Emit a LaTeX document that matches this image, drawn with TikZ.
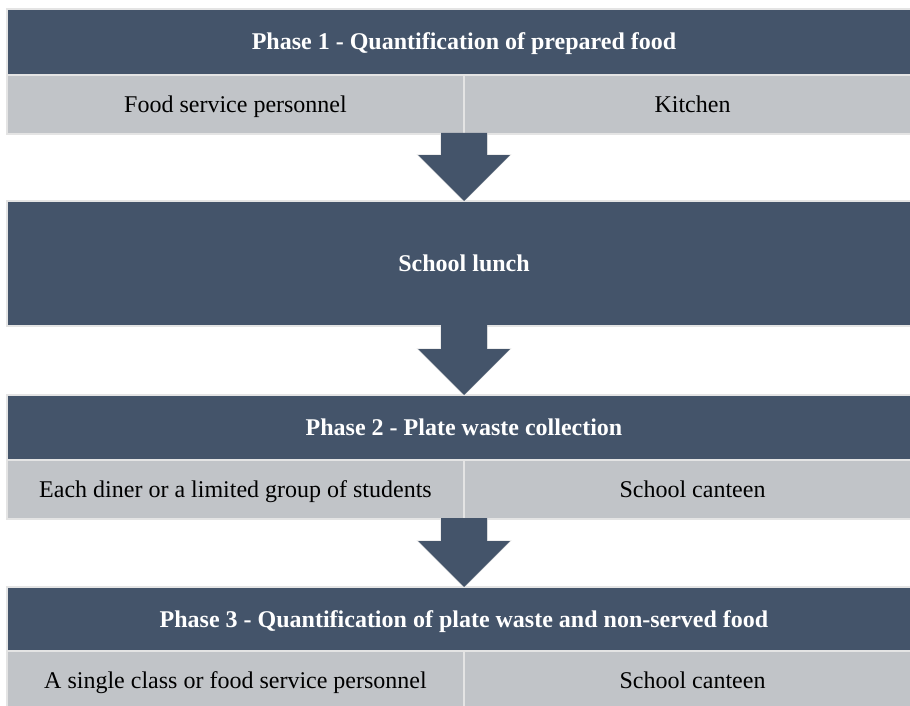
\documentclass[tikz,border=0pt]{standalone}
\usepackage{fontspec}
\setmainfont{Liberation Serif}
\usetikzlibrary{calc}
\definecolor{dk}{HTML}{44546A}
\definecolor{lg}{HTML}{C1C4C8}
\definecolor{bd}{HTML}{E4E4E4}
\newcommand\myblockarrow[2]{%
  \draw[bd, line width=1.4pt, line join=miter]
    ($(#1)+(-23,0)$) -- ($(#2)+(-23,-46)$) -- ($(#2)+(-46,-46)$) -- (#2)
    -- ($(#2)+(46,-46)$) -- ($(#2)+(23,-46)$) -- ($(#1)+(23,0)$);
  \fill[dk]
    ($(#1)+(-23,-1)$) -- ($(#2)+(-23,-46)$) -- ($(#2)+(-46,-46)$) -- (#2)
    -- ($(#2)+(46,-46)$) -- ($(#2)+(23,-46)$) -- ($(#1)+(23,-1)$) -- cycle;
}
\begin{document}
\begin{tikzpicture}[x=1pt,y=-1pt,
  cell/.style={rectangle, draw=bd, line width=1.2pt, inner sep=0pt, outer sep=0pt,
    anchor=north west, text height=18pt, text depth=2pt,
    font=\fontsize{24}{28}\selectfont},
  headbox/.style={cell, fill=dk, text=white,
    font=\fontsize{24}{28}\selectfont\bfseries, minimum width=914pt},
  subbox/.style={cell, fill=lg, text=black, minimum width=457pt, minimum height=59pt},
]
\useasboundingbox (0,0) rectangle (910,706);
\clip (0,0) rectangle (910,706);

% Phase 1
\node[headbox, minimum height=66pt] (p1) at (7,9) {Phase 1 - Quantification of prepared food};
\node[subbox] (g1l) at (7,75) {Food service personnel};
\node[subbox] (g1r) at (464,75) {Kitchen};

% School lunch
\node[headbox, minimum height=125pt] (p2) at (7,201) {School lunch};

% Phase 2
\node[headbox, minimum height=65pt] (p3) at (7,395) {Phase 2 - Plate waste collection};
\node[subbox] (g3l) at (7,460) {Each diner or a limited group of students};
\node[subbox] (g3r) at (464,460) {School canteen};

% Phase 3
\node[headbox, minimum height=64pt] (p4) at (7,587) {Phase 3 - Quantification of plate waste and non-served food};
\node[subbox] (g4l) at (7,651) {A single class or food service personnel};
\node[subbox] (g4r) at (464,651) {School canteen};

% arrows
\myblockarrow{g1l.south east}{p2.north}
\myblockarrow{p2.south}{p3.north}
\myblockarrow{g3l.south east}{p4.north}
\end{tikzpicture}
\end{document}
